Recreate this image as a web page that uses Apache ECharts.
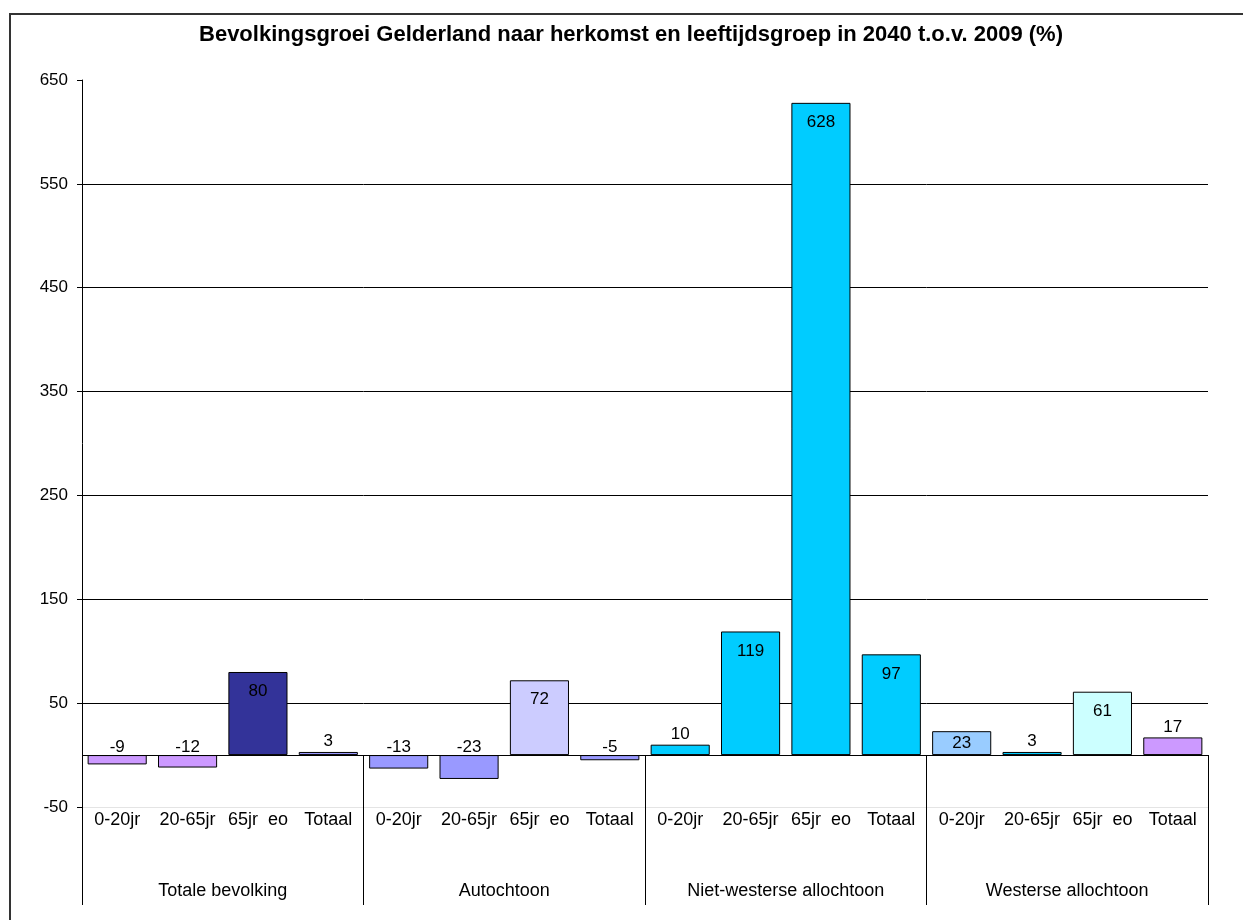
<!DOCTYPE html>
<html>
<head>
<meta charset="utf-8">
<script src="https://cdn.jsdelivr.net/npm/echarts@6/dist/echarts.min.js"></script>
<style>
html,body{margin:0;padding:0;background:#fff;}
#c{width:1243px;height:920px;}
</style>
</head>
<body>
<div id="c"></div>
<script>
const titleText = 'Bevolkingsgroei Gelderland naar herkomst en leeftijdsgroep in 2040 t.o.v. 2009 (%)';
const groups = ['Totale bevolking', 'Autochtoon', 'Niet-westerse allochtoon', 'Westerse allochtoon'];
const ageGroups = ['0-20jr', '20-65jr', '65jr  eo', 'Totaal'];
const totaleBevolking = [-9, -12, 80, 3];
const autochtoon = [-13, -23, 72, -5];
const nietWesters = [10, 119, 628, 97];
const westers = [23, 3, 61, 17];
const yTicks = [-50, 50, 150, 250, 350, 450, 550, 650];

const barColors = [
  '#CC99FF', '#CC99FF', '#333399', '#9999FF',
  '#9999FF', '#9999FF', '#CCCCFF', '#9999FF',
  '#00CCFF', '#00CCFF', '#00CCFF', '#00CCFF',
  '#99CCFF', '#00CCFF', '#CCFFFF', '#CC99FF'
];

const values = [].concat(totaleBevolking, autochtoon, nietWesters, westers);
const categories = [];
groups.forEach(() => ageGroups.forEach(a => categories.push(a)));

const FONT = '"Liberation Sans", Arial, sans-serif';

const seriesData = values.map((v, i) => {
  let label;
  if (v < 0) label = { position: 'top', distance: -1 };
  else if (v < 20) label = { position: 'top', distance: 2 };
  else if (v < 40) label = { position: 'inside' };
  else label = { position: 'insideTop', distance: 11 };
  return { value: v, itemStyle: { color: barColors[i] }, label: label };
});

const chart = echarts.init(document.getElementById('c'), null, { renderer: 'canvas' });
chart.setOption({
  backgroundColor: '#fff',
  animation: false,
  title: {
    text: titleText,
    left: 631,
    top: 24,
    padding: 0,
    textAlign: 'center',
    textStyle: { fontFamily: FONT, fontSize: 22, fontWeight: 'bold', color: '#000' }
  },
  graphic: [{
    type: 'rect',
    shape: { x: 10, y: 14, width: 1400, height: 1100 },
    style: { fill: null, stroke: '#333', lineWidth: 2 },
    silent: true,
    z: 100
  }],
  grid: { left: 82, right: 35, top: 80, bottom: 113, containLabel: false },
  yAxis: {
    type: 'value',
    min: yTicks[0],
    max: yTicks[yTicks.length - 1],
    interval: 100,
    axisLine: { show: true, lineStyle: { color: '#000', width: 1 } },
    axisTick: { show: true, length: 5, lineStyle: { color: '#000' } },
    axisLabel: { margin: 14, fontFamily: FONT, fontSize: 17, color: '#000' },
    splitLine: { show: true, showMinLine: false, showMaxLine: false, lineStyle: { color: '#000', width: 1 } }
  },
  xAxis: [
    {
      type: 'category',
      position: 'bottom',
      data: categories,
      axisLine: { show: true, onZero: false, lineStyle: { color: '#e4e4e4', width: 1 } },
      axisTick: { show: false },
      axisLabel: { interval: 0, margin: 4, fontFamily: FONT, fontSize: 18, color: '#000' }
    },
    {
      type: 'category',
      position: 'bottom',
      data: groups,
      axisLine: { show: false, onZero: false },
      axisTick: { show: true, inside: true, length: 52, lineStyle: { color: '#000', width: 1 } },
      axisLabel: { show: false },
      splitLine: { show: false }
    },
    {
      type: 'category',
      position: 'bottom',
      data: groups,
      axisLine: { show: false, onZero: false },
      axisTick: { show: true, inside: false, length: 98, lineStyle: { color: '#000', width: 1 } },
      axisLabel: { interval: 0, margin: 75, fontFamily: FONT, fontSize: 18, color: '#000' },
      splitLine: { show: false }
    }
  ],
  series: [{
    type: 'bar',
    xAxisIndex: 0,
    data: seriesData,
    barCategoryGap: '16%',
    itemStyle: { borderColor: '#000', borderWidth: 1 },
    label: { show: true, fontFamily: FONT, fontSize: 17, color: '#000' },
    markLine: {
      silent: true,
      symbol: 'none',
      label: { show: false },
      lineStyle: { color: '#000', width: 1, type: 'solid' },
      data: [{ yAxis: 0 }]
    }
  }]
});
</script>
</body>
</html>
